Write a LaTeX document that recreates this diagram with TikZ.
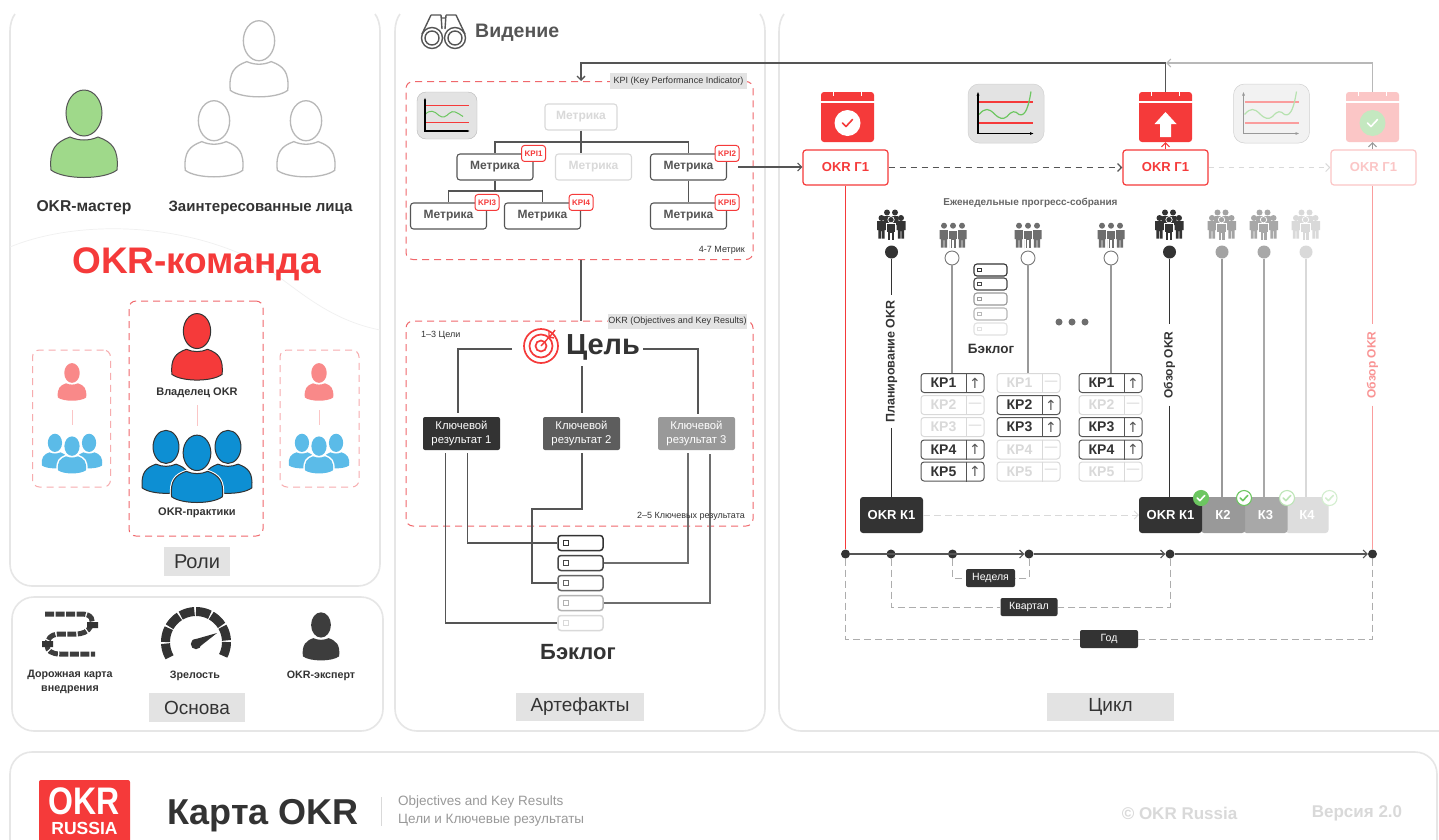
\documentclass[tikz,border=0pt]{standalone}
\usepackage{fontspec}
\setmainfont{Liberation Sans}
\newfontfamily\symfont{DejaVu Sans}
\usetikzlibrary{positioning, arrows.meta, calc}

\definecolor{okrred}{HTML}{F53A3A}
\definecolor{okrpink}{HTML}{FBC6C6}
\definecolor{okrdark}{HTML}{333333}
\definecolor{okrline}{HTML}{555555}
\definecolor{okrpale}{HTML}{D9D9D9}
\definecolor{okrmid}{HTML}{999999}
\definecolor{panelgrey}{HTML}{E6E6E6}
\definecolor{taggrey}{HTML}{E3E3E3}
\definecolor{dashred}{HTML}{F0686C}
\definecolor{okrgreen}{HTML}{6CC660}
\definecolor{okrleaf}{HTML}{9FD98A}
\definecolor{okrblue}{HTML}{0D8FD3}
\definecolor{okrsky}{HTML}{5BBBE8}

\newcommand\personbody{(-33,36) .. controls (-35,15) and (-28,8) .. (-14,3) .. controls (-5,7) and (5,7) .. (14,3) .. controls (28,8) and (35,15) .. (33,36) .. controls (20,46) and (-20,46) .. (-33,36) -- cycle}
\newcommand\personhead{(0,-21) ellipse [x radius=18,y radius=23]}
\newcommand\figbody{(-4.5,0) -- (4.5,0) -- (4.5,9) -- (3.2,9) -- (3.2,17.5) -- (0.3,17.5) -- (0.3,10) -- (-0.3,10) -- (-0.3,17.5) -- (-3.2,17.5) -- (-3.2,9) -- (-4.5,9) -- cycle}
\newcommand\drawperson[1]{%
    \path[pic actions,#1] \personbody;
    \path[draw=white,line width=1.5pt,#1] \personhead;
    \path[pic actions,#1] \personhead;}

\tikzset{
    panel/.style={draw=panelgrey, line width=1.6pt},
    lbl/.style={font=\fontsize{#1}{#1}\selectfont\bfseries, text=okrdark, inner sep=0pt},
    plain/.style={font=\fontsize{#1}{#1}\selectfont, inner sep=0pt},
    tagbox/.style={fill=taggrey, text=okrdark, inner sep=0pt, font=\fontsize{#1}{#1}\selectfont},
    dashbox/.style={draw=dashred, dash pattern=on 7pt off 5pt, line width=1pt, rounded corners=7, inner sep=0pt},
    metric/.style={draw=#1, text=#1, rounded corners=3, line width=1.1pt, inner sep=0pt, minimum height=26, minimum width=76, font=\fontsize{12}{12}\selectfont\bfseries},
    kpibadge/.style={draw=okrred, fill=white, text=okrred, rounded corners=3, line width=1pt, inner sep=0pt, minimum width=24, minimum height=16, font=\fontsize{8}{8}\selectfont\bfseries},
    krbox/.style={fill=#1, text=white, rounded corners=2, inner sep=0pt, minimum width=77, minimum height=33, align=center, font=\fontsize{11.3}{11.3}\selectfont},
    okrbox/.style={draw=#1, text=#1, fill=white, rounded corners=3, line width=1.2pt, inner sep=0pt, minimum width=85, minimum height=35, font=\fontsize{13}{13}\selectfont\bfseries},
    qbox/.style={fill=#1, text=white, rounded corners=3, inner sep=0pt, minimum height=36, font=\fontsize{13}{13}\selectfont\bfseries},
    spanbox/.style={fill=okrdark, text=white, rounded corners=2, inner sep=0pt, minimum height=18, font=\fontsize{10.5}{10.5}\selectfont},
    blitem/.style={draw=#1, fill=white, rounded corners=3, line width=1.5pt, inner sep=0pt, minimum width=45, minimum height=15},
    blmark/.style={draw=#1, fill=white, line width=1.2pt, inner sep=0pt, minimum size=5},
    krrow/.style={draw=#1, rounded corners=3, line width=1pt, inner sep=0pt, minimum width=63, minimum height=19},
    link/.style={draw=okrline, line width=1.1pt},
    barb/.style={-{Straight Barb[length=4pt,width=8pt]}},
    spandash/.style={draw=okrmid!80, line width=.9pt, dash pattern=on 7pt off 4pt},
    tickdot/.style={circle, fill=#1, inner sep=0pt, minimum size=13},
    timedot/.style={circle, fill=okrdark, inner sep=0pt, minimum size=9},
    hollow/.style={circle, draw=okrline!80, fill=white, line width=.9pt, inner sep=0pt, minimum size=14},
    okcheck/.style={circle, draw=#1, fill=white, line width=1.1pt, inner sep=0pt, minimum size=15},
    pics/person/.style={code={\drawperson{}}},
    pics/team/.style={code={
        \drawperson{shift={(-31,-7)},scale=.72}
        \drawperson{shift={(31,-7)},scale=.72}
        \path[fill=white,draw=white,line width=3pt,scale=.77] \personbody \personhead;
        \drawperson{scale=.77}
    }},
    pics/crowd/.style={code={
        \fill[#1] (-4.5,-12.5) circle (3) (3.5,-12.5) circle (3) (-10,-7) circle (3) (9.5,-7) circle (3);
        \fill[#1, rounded corners=1] (-8,-9) rectangle (7,0);
        \fill[#1, shift={(-10,-4)}] \figbody;
        \fill[#1, shift={(9.5,-4)}] \figbody;
        \fill[#1, draw=white, line width=.7pt] (-.5,-5.3) circle (3.2);
        \fill[#1, draw=white, line width=.7pt, shift={(-.5,-2)}, xscale=1.05] \figbody;
    }},
    pics/smallcrowd/.style={code={
        \fill[#1] (-9,-9.3) circle (3) (0,-9.3) circle (3) (9,-9.3) circle (3);
        \fill[#1, shift={(-9,-5)}] \figbody;
        \fill[#1, shift={(9,-5)}] \figbody;
        \fill[#1, draw=white, line width=.5pt, shift={(0,-4.5)}] \figbody;
    }},
    pics/calendar/.style={code={
        \fill[#1, rounded corners=3] (-26.5,-25) rectangle (26.5,25);
        \draw[white, line width=1.6pt] (-27,-15) -- (27,-15);
        \draw[white, line width=1.6pt] (-14,-26) -- (-14,-21) (14,-26) -- (14,-21);
    }},
    pics/tick/.style={code={
        \draw[#1, line width=1.6pt, line cap=round, line join=round] (-5,0) -- (-1.5,3.5) -- (5,-3.5);
    }},
    pics/trend/.style n args={4}{code={
        \fill[#1, rounded corners=11] (-38,-29.5) rectangle (38,29.5);
        \draw[okrmid!45, line width=.5pt, rounded corners=11] (-38,-29.5) rectangle (38,29.5);
        \draw[#3, line width=1.2pt] (-27,-11.5) -- (27,-11.5) (-27,9.5) -- (27,9.5);
        \draw[#4, line width=1.2pt] (-27,1) .. controls (-21,-6) and (-17,-5) .. (-12,0) .. controls (-6,6) and (-3,6) .. (1,3) .. controls (6,-3) and (9,-3) .. (13,1) .. controls (20,4) and (23,-10) .. (25,-22);
        \draw[#2, line width=1.3pt, {Latex[length=4pt]}-{Latex[length=4pt]}] (-28,-22) -- (-28,20) -- (28,20);
    }},
    pics/kpichart/.style={code={
        \fill[taggrey, rounded corners=9] (-30,-23.5) rectangle (30,23.5);
        \draw[okrmid!70, line width=.4pt, rounded corners=9] (-30,-23.5) rectangle (30,23.5);
        \draw[okrred, line width=1pt] (-22,-10.5) -- (22,-10.5) (-22,6.5) -- (22,6.5);
        \draw[okrgreen, line width=1pt] (-22,-1) .. controls (-17,-6) and (-13,-5) .. (-8,0) .. controls (-4,3) and (-1,1) .. (2,-2) .. controls (6,-6) and (10,-3) .. (16,1);
        \draw[black, line width=1.2pt, {Latex[length=3pt]}-{Latex[length=3pt]}] (-22,-18) -- (-22,15.5) -- (23,15.5);
    }},
}

\begin{document}
\begin{tikzpicture}[x=1pt, y=-1pt]
    \useasboundingbox (0,0) rectangle (1439,839);
    \fill[white] (0,0) rectangle (1439,839);

    \draw[panel] (15,14) .. controls (12,18) and (10,24) .. (10,32) [rounded corners=22] -- (10,586) -- (380,586) [sharp corners] -- (380,32) .. controls (380,24) and (378,18) .. (375,14);
    \draw[panel, rounded corners=22] (12,597) rectangle (383,731);
    \draw[panel] (400,14) .. controls (397,18) and (395,24) .. (395,32) [rounded corners=22] -- (395,731) -- (765,731) [sharp corners] -- (765,32) .. controls (765,24) and (763,18) .. (760,14);
    \draw[panel] (784,14) .. controls (781,18) and (779,24) .. (779,32) [rounded corners=22] -- (779,731) -- (1450,731);
    \draw[panel, rounded corners=22] (10,845) -- (10,752) -- (1437,752) -- (1437,845);
    \draw[panelgrey!60, line width=.7pt] (10,247) .. controls (70,222) and (170,220) .. (250,258) .. controls (290,280) and (320,318) .. (380,330);

    % roles
    \pic[fill=okrleaf, draw=okrline, line width=1pt] at (84,134) {person};
    \foreach \px/\py in {259/59, 214/139, 306/139}
        \pic[draw=okrpale!85!black, fill=white, line width=1.3pt, scale=.87] at (\px,\py) {person};
    \node[lbl=15.7] (master) at (84,208) {OKR-мастер};
    \node[lbl=15] (stake) at (260.5,208) {Заинтересованные лица};
    \node[lbl=37, text=okrred] (team) at (196.5,264) {OKR-команда};

    \node[dashbox, minimum width=134, minimum height=235] (rolec) at (196,418.5) {};
    \node[dashbox, draw=dashred!55, minimum width=78, minimum height=137] (rolel) at (71.5,418.5) {};
    \node[dashbox, draw=dashred!55, minimum width=79, minimum height=137] (roler) at (319.5,418.5) {};

    \pic[fill=okrred, draw=okrdark, line width=1pt, scale=.76] at (197,347) {person};
    \node[lbl=11] (owner) at (197,393) {Владелец OKR};
    \coordinate (ownerb) at (197,405);
    \coordinate (teamt) at (197,426);
    \draw[okrpink, line width=1pt] (ownerb) -- (teamt);
    \pic[fill=okrblue, draw=okrdark, line width=1pt] at (197,469) {team};
    \node[lbl=11] (practice) at (197,513) {OKR-практики};

    \foreach \tx/\tn in {72/l, 319/r} {
        \pic[fill=okrred!60, scale=.43] at (\tx,382) {person};
        \coordinate (sma\tn) at (\tx,410);
        \coordinate (smb\tn) at (\tx,425);
        \draw[okrpink, line width=1pt] (sma\tn) -- (smb\tn);
        \pic[fill=okrsky, scale=.55] at (\tx,455) {team};
    }
    \node[tagbox=20, minimum width=66, minimum height=29] (roles) at (197,561.5) {Роли};

    % base
    \draw[okrdark!95, line width=5pt, dash pattern=on 9pt off 1.5pt] (45,614) -- (82,614) .. controls (92,614) and (94,621) .. (91,626) .. controls (88,632) and (82,634) .. (76,634) -- (60,634) .. controls (50,634) and (47,640) .. (47,645) .. controls (47,651) and (52,654) .. (60,654) -- (95,654);
    \fill[okrdark] (87,622) rectangle (98,628) (42,641) rectangle (53,647);
    \node[lbl=10.7, align=center] (road) at (70,682) {Дорожная карта\\[3pt]внедрения};
    \foreach \ga in {150,180,210,240,270,300,330,360}
        \draw[okrdark, line width=9pt] plot[domain=\ga:\ga+27, samples=6] ({196+30.5*cos(\x)},{642+30.5*sin(\x)});
    \fill[okrdark] (196,644) circle (5.2);
    \fill[okrdark] (192.5,640) -- (217,633) -- (198,648) -- cycle;
    \node[lbl=10.7] (mature) at (195,675.5) {Зрелость};
    \pic[fill=okrdark!95, scale=.55] at (321,636.5) {person};
    \node[lbl=10.7] (expert) at (321,675.5) {OKR-эксперт};
    \node[tagbox=19, minimum width=96, minimum height=29] (base) at (197,707.5) {Основа};

    % artefacts
    \begin{scope}[okrline, line width=1.4pt]
        \draw (432,38) circle (10.5) (432,38) circle (7) (455,38) circle (10.5) (455,38) circle (7);
        \draw (422,34) -- (431,15) (442,29) -- (441,15) (465,34) -- (456,15) (445,29) -- (446,15) (441,18) -- (446,18) (431,15) -- (441,15) (446,15) -- (456,15);
    \end{scope}
    \node[lbl=19.5, text=okrline, anchor=west] (vision) at (475,33) {Видение};

    \node[dashbox, minimum width=347, minimum height=178] (kpi) at (579.5,170.5) {};
    \node[tagbox=9, minimum width=137, minimum height=16] (kpitag) at (678.5,81) {KPI (Key Performance Indicator)};
    \pic at (447,115.5) {kpichart};
    \node[metric=okrpale, minimum width=72] (m0) at (581,117) {Метрика};
    \node[metric=okrline] (m1) at (495,167) {Метрика};
    \node[metric=okrpale] (m2) at (593.5,167) {Метрика};
    \node[metric=okrline] (m3) at (688.5,167) {Метрика};
    \node[metric=okrline] (m4) at (448.5,216) {Метрика};
    \node[metric=okrline] (m5) at (542.5,216) {Метрика};
    \node[metric=okrline] (m6) at (688.5,216) {Метрика};
    \coordinate (mj) at (581,142);
    \coordinate (mk) at (495,191);
    \draw[link] (m0.south) -- (mj) (mj) -| (m1.north) (mj) -| (m3.north) (mj) -- (mj |- m2.north);
    \draw[link] (m1.south) -- (mk) (mk) -| (m4.north) (mk) -| (m5.north);
    \draw[link] (m3.south) -- (m6.north);
    \node[kpibadge] (k1) at (m1.north east) {KPI1};
    \node[kpibadge] (k2) at (m3.north east) {KPI2};
    \node[kpibadge] (k3) at (m4.north east) {KPI3};
    \node[kpibadge] (k4) at (m5.north east) {KPI4};
    \node[kpibadge] (k5) at (m6.north east) {KPI5};
    \node[plain=9, text=okrdark, anchor=east] (kpin) at (745,250) {4-7 Метрик};

    \node[dashbox, minimum width=347, minimum height=205] (okr) at (579.5,423.5) {};
    \node[tagbox=9, minimum width=139, minimum height=15] (okrtag) at (677.5,321.5) {OKR (Objectives and Key Results)};
    \draw[link] (m0 |- kpi.south) -- (m0 |- okr.north);
    \node[plain=9, text=okrdark, anchor=west] (goaln) at (421,335) {1–3 Цели};
    \node[circle, inner sep=0pt, minimum size=35] (aim) at (541,346) {};
    \draw[okrred, line width=1.7pt] (541,346) circle (17) (541,346) circle (11.5) (541,346) circle (5.5);
    \draw[okrred, line width=1.4pt] (541,346) -- (552,334) (549,332) -- (549,337) -- (554,338) (552,334) -- (555,330);
    \node[lbl=29] (goal) at (603,347) {Цель};
    \node[krbox=okrdark] (kr1) at (461.5,433.5) {Ключевой\\[2pt]результат 1};
    \node[krbox=okrline!95] (kr2) at (581.5,433.5) {Ключевой\\[2pt]результат 2};
    \node[krbox=okrmid] (kr3) at (696.5,433.5) {Ключевой\\[2pt]результат 3};
    \coordinate (ga) at (512,349);
    \coordinate (gb) at (582,366);
    \coordinate (gc) at (643,349);
    \coordinate (ta) at (458,413);
    \coordinate (tb) at (582,413);
    \coordinate (tc) at (698,414);
    \draw[link] (ga) -| (ta);
    \draw[link] (gb) -- (tb);
    \draw[link] (gc) -| (tc);
    \foreach \bi/\by/\bc in {1/543/okrdark, 2/563/okrdark!90, 3/583/okrline!90, 4/603/okrmid!75, 5/623/okrpale} {
        \node[blitem=\bc] (bl\bi) at (580.5,\by) {};
        \node[blmark=\bc] (bm\bi) at ([xshift=9]bl\bi.west) {};
    }
    \coordinate (r1a) at (445.5,453);
    \coordinate (r1b) at (467.5,453);
    \coordinate (r2a) at (582,453);
    \coordinate (r2j) at (532,509);
    \coordinate (r3a) at (688,453);
    \coordinate (r3b) at (710,454);
    \draw[link] (r1a) |- (bl5.west);
    \draw[link] (r1b) |- (bl1.west);
    \draw[link] (r2a) |- (r2j) |- (bl3.west);
    \draw[link, draw=okrline!85] (r3a) |- (bl2.east);
    \draw[link, draw=okrline!85] (r3b) |- (bl4.east);
    \node[plain=9, text=okrdark, anchor=east] (krn) at (745,516) {2–5 Ключевых результата};
    \node[lbl=22] (blog) at (578,652) {Бэклог};
    \node[tagbox=19, minimum width=128, minimum height=28] (arts) at (580,707) {Артефакты};

    % cycle
    \node[inner sep=0pt, minimum width=53, minimum height=50] (cal1) at (847.5,117) {};
    \node[inner sep=0pt, minimum width=53, minimum height=50] (cal2) at (1165.5,117) {};
    \node[inner sep=0pt, minimum width=53, minimum height=50] (cal3) at (1372.5,117) {};
    \pic at (cal1) {calendar=okrred};
    \fill[white] (847.5,123) circle (13);
    \pic at (847.5,123) {tick=okrred};
    \pic at (cal2) {calendar=okrred};
    \fill[white] (1165.5,112) -- (1176.5,124) -- (1171,124) -- (1171,137) -- (1160,137) -- (1160,124) -- (1154.5,124) -- cycle;
    \pic at (cal3) {calendar=okrpink};
    \fill[okrgreen!40] (1372.5,123) circle (13);
    \pic at (1372.5,123) {tick=white};
    \pic at (1006,113.5) {trend={taggrey}{black}{okrred}{okrgreen}};
    \pic at (1271.5,113.5) {trend={black!5}{okrmid}{okrred!50}{okrgreen!50}};

    \node[okrbox=okrred] (okr1) at (845.5,167.5) {OKR Г1};
    \node[okrbox=okrred] (okr2) at (1165.5,167.5) {OKR Г1};
    \node[okrbox=okrpink] (okr3) at (1373.5,167.5) {OKR Г1};
    \coordinate (m3out) at (738,167);
    \draw[link, barb] (m3out) -- (m3out -| okr1.west);
    \draw[link, barb, line width=1.2pt, dash pattern=on 6pt off 5pt] (okr1) -- (okr2);
    \draw[barb, okrpale, line width=1pt, dash pattern=on 5pt off 5pt] (okr2) -- (okr3);
    \draw[barb, okrred, line width=1pt] (okr2.north) -- (cal2.south);
    \draw[barb, okrmid, line width=1pt] (okr3.north -| cal3) -- (cal3.south);
    \coordinate (topa) at (581,63);
    \coordinate (topb) at (1166,63);
    \draw[barb, okrpale!85!black, line width=1.1pt] (cal3.north) |- (topb);
    \draw[link, barb, line width=1.3pt] (cal2.north) |- (topa) -- (topa |- kpi.north);

    \node[lbl=10, text=okrline!90] (weekly) at (1030.5,203) {Еженедельные прогресс-собрания};

    % quarters
    \node[qbox=okrdark, minimum width=63] (q1) at (891.5,515) {OKR К1};
    \node[qbox=okrpale!90, minimum width=43] (q5) at (1307,515) {К4};
    \node[qbox=okrmid!85, minimum width=44] (q4) at (1265.5,515) {К3};
    \node[qbox=okrmid, minimum width=44] (q3) at (1223,515) {К2};
    \node[qbox=okrdark, minimum width=63] (q2) at (1170.5,515) {OKR К1};
    \draw[barb, okrpale, line width=.9pt, dash pattern=on 7pt off 4pt] (q1) -- (q2);

    \foreach \dn/\dx/\dc in {a/891.5/okrdark, b/1169.5/okrdark, c/1222/okrmid!90, d/1264/okrmid!85, e/1306/okrpale} {
        \pic at (\dx,225) {crowd=\dc};
        \node[tickdot=\dc] (d\dn) at (\dx,252) {};
    }
    \node[lbl=12.5, rotate=90, fill=white, inner xsep=5pt, inner ysep=0pt] (plan) at (891.5,361.5) {Планирование OKR};
    \node[lbl=12, rotate=90, fill=white, inner xsep=7pt, inner ysep=0pt] (rev1) at (1169.5,365) {Обзор OKR};
    \node[lbl=12, rotate=90, fill=white, inner xsep=7pt, inner ysep=0pt, text=okrred!55] (rev2) at (1372.5,365) {Обзор OKR};
    \draw[link, draw=okrdark] (da) -- (plan.east) (plan.west) -- (q1.north -| plan);
    \draw[link, draw=okrdark] (db) -- (rev1.east) (rev1.west) -- (q2.north -| rev1);
    \draw[okrmid, line width=1.1pt] (dc) -- (dc |- q3.north);
    \draw[okrmid!85, line width=1.1pt] (dd) -- (dd |- q4.north);
    \draw[okrpale, line width=1.1pt] (de) -- (de |- q5.north);

    \foreach \kx in {953, 1028, 1111}
        \pic at (\kx,235) {smallcrowd=okrline!85};
    \node[hollow] (wa) at (952,258) {};
    \node[hollow] (wb) at (1028,258) {};
    \node[hollow] (wc) at (1111,258) {};
    \foreach \ci/\cx/\sa/\sb/\sc/\sd/\se in {1/952.5/1/0/0/1/1, 2/1028.5/0/1/1/0/0, 3/1110.5/1/0/1/1/0} {
        \foreach \ri/\ry/\rs in {1/383/\sa, 2/405/\sb, 3/427/\sc, 4/449.5/\sd, 5/471.5/\se} {
            \ifnum\rs=1 \def\rowc{okrline}\def\rowt{okrdark}\def\rowm{↑}\else \def\rowc{okrpale}\def\rowt{okrpale}\def\rowm{—}\fi
            \node[krrow=\rowc] (kr\ci\ri) at (\cx,\ry) {};
            \node[lbl=14, text=\rowt] (krt\ci\ri) at ([xshift=-9]kr\ci\ri.center) {КР\ri};
            \node[inner sep=0pt, text=\rowc, font=\symfont\fontsize{14}{14}\selectfont] (krm\ci\ri) at ([xshift=22.5]kr\ci\ri.center) {\rowm};
            \draw[\rowc, line width=.8pt] ([xshift=13.5]kr\ci\ri.north) -- ([xshift=13.5]kr\ci\ri.south);
        }
    }
    \draw[okrmid, line width=1.1pt] (wa) -- (wa |- kr11.north);
    \draw[okrmid, line width=1.1pt] (wb) -- (wb |- kr21.north);
    \draw[okrmid, line width=1.1pt] (wc) -- (wc |- kr31.north);

    \foreach \bi/\by/\bc in {1/270/okrdark, 2/284/okrdark!90, 3/299/okrmid, 4/314/okrmid!70, 5/329/okrpale!80} {
        \node[blitem=\bc, line width=1.1pt, minimum width=33, minimum height=12] (sb\bi) at (990.5,\by) {};
        \node[blmark=\bc, line width=.9pt, minimum size=3.5] (sm\bi) at ([xshift=6]sb\bi.west) {};
    }
    \node[lbl=13.5] (sblog) at (991,349) {Бэклог};
    \foreach \ddn/\ddx in {a/1059, b/1072, c/1085}
        \node[circle, fill=okrline!85, inner sep=0pt, minimum size=7] (dot\ddn) at (\ddx,322) {};

    % badges
    \node[okcheck=okrgreen, fill=okrgreen] (c1) at (1201,498) {};
    \node[okcheck=okrgreen] (c2) at (1244,498) {};
    \node[okcheck=okrgreen!45] (c3) at (1287,498) {};
    \node[okcheck=okrgreen!30] (c4) at (1329.5,498) {};
    \pic[scale=.75] at (c1) {tick=white};
    \pic[scale=.75] at (c2) {tick=okrgreen};
    \pic[scale=.75] at (c3) {tick=okrgreen!45};
    \pic[scale=.75] at (c4) {tick=okrgreen!30};

    % timeline
    \node[timedot] (t0) at (845.5,554) {};
    \node[timedot] (t1) at (891,554) {};
    \node[timedot] (t2) at (952.5,554) {};
    \node[timedot] (t3) at (1029,554) {};
    \node[timedot] (t4) at (1170,554) {};
    \node[timedot] (t5) at (1372.5,554) {};
    \draw[link, barb] (t0) -- (t3);
    \draw[link, barb] (t3) -- (t4);
    \draw[link, barb] (t4) -- (t5);
    \draw[okrred, line width=1.1pt] (okr1) -- (t0);
    \draw[okrred!50, line width=1pt] (okr3.south -| rev2) -- (rev2.east);
    \draw[okrred!50, line width=1pt] (rev2.west) -- (t5);
    \node[spanbox, minimum width=49] (wk) at (990.5,578) {Неделя};
    \node[spanbox, minimum width=57] (qr) at (1029,607) {Квартал};
    \node[spanbox, minimum width=58] (yr) at (1109,639) {Год};
    \draw[spandash] (t2) |- (wk.west);
    \draw[spandash] (t3) |- (wk.east);
    \draw[spandash] (t1) |- (qr.west);
    \draw[spandash] (t4) |- (qr.east);
    \draw[spandash] (t0) |- (yr.west);
    \draw[spandash] (t5) |- (yr.east);
    \node[tagbox=19, minimum width=127, minimum height=28] (cyc) at (1110.5,707) {Цикл};

    % footer
    \fill[okrred, rounded corners=2] (39,780) rectangle (130,845);
    \node[lbl=32, text=white] (logo1) at (84.5,801) {\scalebox{1}[1.2]{OKR}};
    \node[lbl=17.5, text=white] (logo2) at (84.5,828) {RUSSIA};
    \node[lbl=36] (title) at (263,816) {Карта OKR};
    \coordinate (sepa) at (381,797);
    \coordinate (sepb) at (381,826);
    \draw[okrpale, line width=.8pt] (sepa) -- (sepb);
    \node[plain=13.5, text=okrmid, anchor=west] (sub1) at (398,802) {Objectives and Key Results};
    \node[plain=13.5, text=okrmid, anchor=west] (sub2) at (398,820) {Цели и Ключевые результаты};
    \node[lbl=17, text=okrpale] (copy) at (1179.5,813) {© OKR Russia};
    \node[lbl=17, text=okrpale] (ver) at (1357,813) {Версия 2.0};
\end{tikzpicture}
\end{document}
